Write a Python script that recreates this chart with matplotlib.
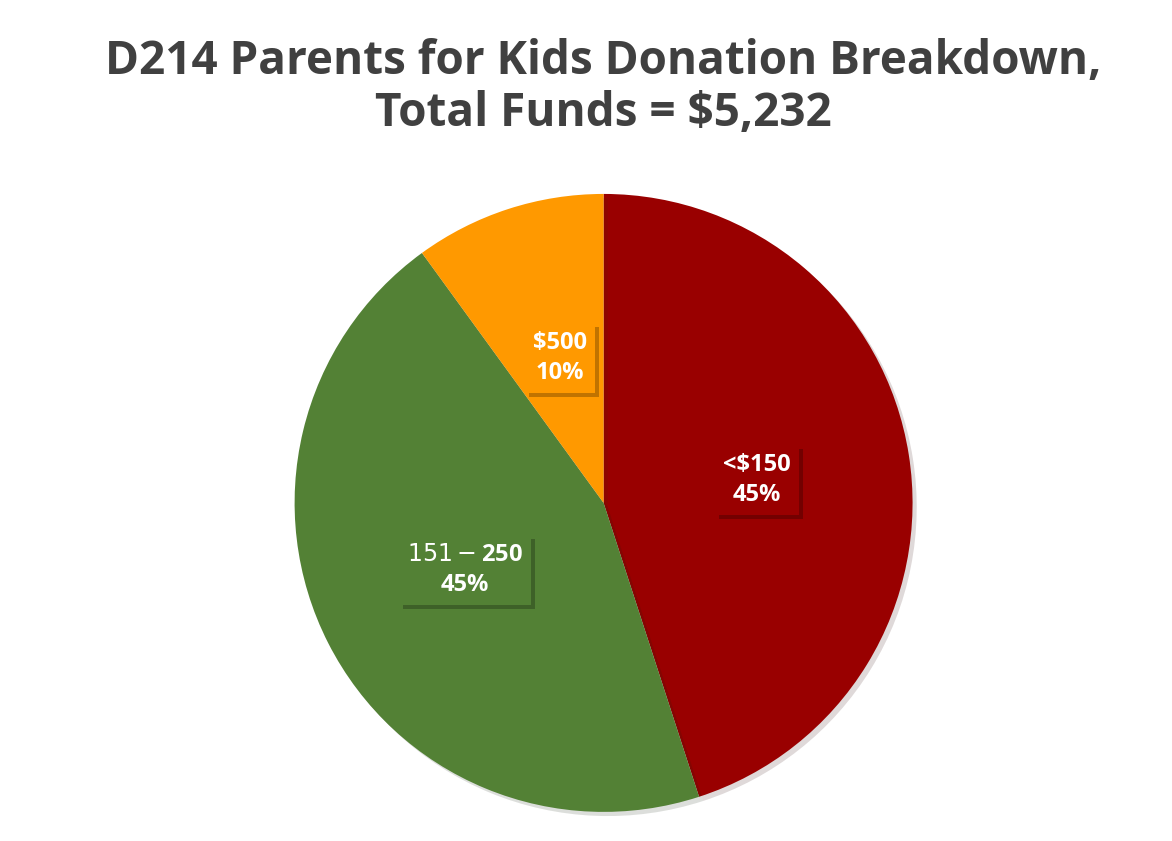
import matplotlib
matplotlib.use("Agg")
import matplotlib.pyplot as plt
import matplotlib.patheffects as pe

categories = ["<$150", "$151 - $250", "$500"]
percents = [45, 45, 10]
colors = ["#990000", "#538135", "#FF9900"]
label_pos = [(0.495, 0.074), (-0.45, -0.217), (-0.142, 0.469)]

plt.rcParams['font.family'] = ['Open Sans', 'DejaVu Sans']
fig = plt.figure(figsize=(11.72, 8.41), dpi=100)
fig.text(0.515, 0.955, "D214 Parents for Kids Donation Breakdown,\nTotal Funds = $5,232",
         ha='center', va='top', fontsize=33, fontweight='bold', color='#404040', linespacing=1.15)
ax = fig.add_axes([0.515 - 0.2637, 0.402 - 0.3674, 0.5274, 0.7348])
wedges, _ = ax.pie(percents, colors=colors, startangle=90, counterclock=False,
                   wedgeprops=dict(linewidth=0))
for w in wedges:
    w.set_path_effects([pe.SimplePatchShadow(offset=(3, -3), alpha=0.15), pe.Normal()])
for cat, p, c, (x, y) in zip(categories, percents, colors, label_pos):
    ax.text(x, y, f"{cat}\n{p}%", ha='center', va='center', fontsize=17, fontweight='bold',
            color='white', linespacing=1.3,
            bbox=dict(boxstyle='square,pad=0.35', fc=c, ec='none',
                      path_effects=[pe.SimplePatchShadow(offset=(3, -3), alpha=0.35), pe.Normal()]))
ax.set_xlim(-1, 1); ax.set_ylim(-1, 1)
ax.set_aspect('equal')
fig.savefig("out.png", dpi=100)
